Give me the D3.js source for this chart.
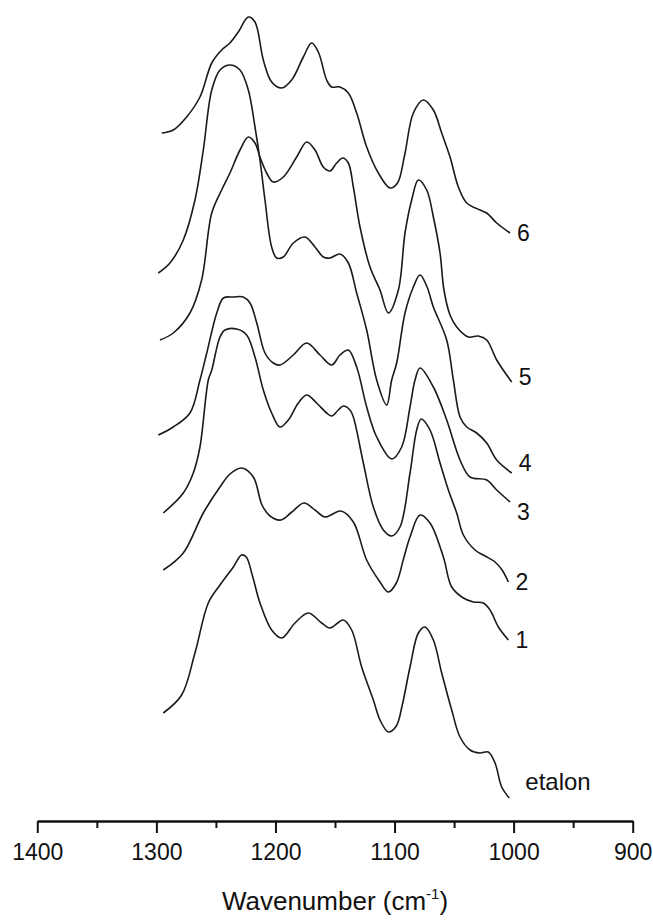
<!DOCTYPE html>
<html>
<head>
<meta charset="utf-8">
<script src="https://cdn.jsdelivr.net/npm/d3@7"></script>
<style>
    body {
        margin: 0;
        background: #ffffff;
    }

    #chart {
        display: block;
    }

    .spectrum {
        fill: none;
        stroke: #1a1a1a;
        stroke-width: 1.6px;
        stroke-linejoin: round;
    }

    text {
        font-family: "Liberation Sans", Arial, sans-serif;
        fill: #111;
    }

    .axis path,
    .axis line {
        stroke: #111;
        stroke-width: 2px;
    }
</style>
</head>
<body>
<svg id="chart" width="653" height="921"></svg>

<script>
    // tick labels of the wavenumber axis
    const majorTicks = [1400, 1300, 1200, 1100, 1000, 900];
    const minorTicks = [1350, 1250, 1150, 1050, 950];

    // spectra, [wavenumber cm-1, absorbance a.u. incl. stacking offset]
    const spectrum6 = [
        [1295.5, 6.88], [1285.8, 6.91], [1274.6, 7.04], [1263.4, 7.24], [1253.5, 7.58],
        [1245.2, 7.71], [1238.2, 7.78], [1231.2, 7.89], [1222.8, 8.04], [1217.2, 7.99],
        [1210.2, 7.61], [1203.2, 7.39], [1194.8, 7.33], [1186.4, 7.41], [1176.6, 7.64],
        [1169.6, 7.78], [1164.0, 7.69], [1157.0, 7.41], [1152.8, 7.34], [1145.8, 7.34],
        [1138.8, 7.28], [1131.8, 7.08], [1123.4, 6.74], [1113.6, 6.48], [1103.8, 6.33],
        [1097.5, 6.38], [1091.5, 6.66], [1084.2, 7.08], [1075.8, 7.21], [1067.4, 7.11],
        [1060.4, 6.88], [1053.4, 6.64], [1046.4, 6.34], [1039.4, 6.18], [1028.2, 6.11],
        [1022.6, 6.08], [1014.2, 5.98], [1003.0, 5.88]
    ];
    const spectrum5 = [
        [1297.0, 4.81], [1285.8, 4.88], [1271.8, 5.08], [1262.0, 5.41], [1253.5, 6.08],
        [1245.2, 6.31], [1238.2, 6.48], [1229.8, 6.71], [1222.8, 6.84], [1217.2, 6.78],
        [1213.0, 6.64], [1207.4, 6.48], [1201.8, 6.39], [1193.4, 6.44], [1182.2, 6.64],
        [1173.8, 6.79], [1166.8, 6.71], [1159.8, 6.54], [1154.2, 6.50], [1148.6, 6.58],
        [1143.5, 6.63], [1138.8, 6.58], [1134.6, 6.34], [1129.0, 5.94], [1120.6, 5.54],
        [1112.2, 5.31], [1105.2, 5.08], [1096.8, 5.31], [1091.2, 5.88], [1085.6, 6.21],
        [1080.0, 6.41], [1073.0, 6.31], [1067.4, 6.04], [1061.8, 5.68], [1058.5, 5.31],
        [1053.4, 5.06], [1047.8, 4.94], [1038.0, 4.84], [1029.7, 4.85], [1022.6, 4.81],
        [1014.2, 4.61], [1001.6, 4.39]
    ];
    const spectrum4 = [
        [1298.4, 5.48], [1288.6, 5.58], [1277.4, 5.81], [1267.6, 6.21], [1260.6, 6.71],
        [1253.5, 7.31], [1246.6, 7.51], [1238.2, 7.56], [1229.8, 7.51], [1222.8, 7.31],
        [1217.2, 6.94], [1213.0, 6.61], [1208.8, 6.21], [1203.2, 5.74], [1199.0, 5.63],
        [1193.4, 5.64], [1185.0, 5.78], [1175.2, 5.84], [1166.8, 5.74], [1159.8, 5.64],
        [1154.2, 5.63], [1145.8, 5.67], [1138.8, 5.58], [1131.8, 5.28], [1123.4, 4.91],
        [1115.0, 4.41], [1106.6, 4.16], [1102.4, 4.41], [1098.2, 4.58], [1091.2, 5.08],
        [1084.2, 5.34], [1078.6, 5.46], [1073.0, 5.35], [1067.4, 5.14], [1056.2, 4.81],
        [1050.6, 4.41], [1045.0, 4.04], [1039.4, 3.94], [1031.0, 3.88], [1022.6, 3.78],
        [1014.2, 3.61], [1001.6, 3.48]
    ];
    const spectrum3 = [
        [1298.4, 3.86], [1285.8, 3.94], [1271.8, 4.08], [1263.4, 4.41], [1257.7, 4.68],
        [1249.3, 5.08], [1243.7, 5.23], [1235.3, 5.24], [1227.0, 5.24], [1221.4, 5.18],
        [1215.7, 4.98], [1208.8, 4.68], [1201.8, 4.58], [1196.2, 4.56], [1185.0, 4.66],
        [1173.8, 4.78], [1162.6, 4.66], [1152.8, 4.56], [1145.8, 4.66], [1138.8, 4.71],
        [1131.8, 4.54], [1123.4, 4.14], [1115.0, 3.84], [1102.4, 3.62], [1094.0, 3.74],
        [1087.0, 4.14], [1082.8, 4.41], [1078.6, 4.53], [1067.4, 4.34], [1056.2, 4.01],
        [1045.0, 3.61], [1036.6, 3.44], [1022.6, 3.41], [1014.2, 3.31], [1003.0, 3.19]
    ];
    const spectrum2 = [
        [1294.2, 3.08], [1277.4, 3.28], [1269.0, 3.48], [1263.4, 3.74], [1256.4, 4.41],
        [1253.5, 4.51], [1246.6, 4.84], [1242.4, 4.91], [1232.6, 4.92], [1224.2, 4.86],
        [1217.2, 4.64], [1210.2, 4.31], [1203.2, 4.08], [1196.2, 3.94], [1189.2, 4.01],
        [1180.8, 4.18], [1173.8, 4.26], [1165.4, 4.18], [1157.0, 4.08], [1152.8, 4.05],
        [1147.2, 4.11], [1143.0, 4.15], [1137.4, 4.11], [1134.6, 4.04], [1126.2, 3.58],
        [1117.8, 3.14], [1109.4, 2.91], [1102.4, 2.85], [1095.4, 2.94], [1087.0, 3.48],
        [1081.4, 3.91], [1077.6, 4.02], [1070.2, 3.91], [1061.8, 3.58], [1054.8, 3.31],
        [1047.8, 3.08], [1042.2, 2.86], [1032.4, 2.71], [1024.0, 2.65], [1015.6, 2.59],
        [1009.7, 2.51], [1004.4, 2.39]
    ];
    const spectrum1 = [
        [1294.2, 2.51], [1277.4, 2.68], [1260.6, 3.08], [1246.6, 3.34], [1238.2, 3.47],
        [1228.4, 3.53], [1218.6, 3.44], [1211.3, 3.16], [1204.6, 3.05], [1195.4, 3.01],
        [1186.2, 3.09], [1176.1, 3.18], [1166.8, 3.11], [1158.4, 3.04], [1145.0, 3.10],
        [1134.6, 2.99], [1123.4, 2.61], [1112.2, 2.39], [1105.2, 2.29], [1098.5, 2.38],
        [1092.5, 2.62], [1087.0, 2.84], [1078.6, 3.06], [1070.2, 2.98], [1059.0, 2.64],
        [1052.0, 2.34], [1042.2, 2.23], [1033.8, 2.19], [1025.4, 2.18], [1019.8, 2.11],
        [1012.8, 1.94], [1004.4, 1.81]
    ];
    const spectrumEtalon = [
        [1294.2, 1.08], [1278.8, 1.26], [1267.6, 1.68], [1256.4, 2.18], [1246.6, 2.36],
        [1235.4, 2.54], [1228.5, 2.66], [1224.5, 2.64], [1219.5, 2.46], [1213.0, 2.18],
        [1203.2, 1.91], [1194.8, 1.83], [1183.6, 1.98], [1172.4, 2.08], [1161.2, 1.98],
        [1154.2, 1.93], [1143.0, 2.01], [1136.0, 1.91], [1127.6, 1.54], [1117.8, 1.21],
        [1112.2, 1.01], [1105.2, 0.89], [1098.5, 0.95], [1093.5, 1.16], [1087.0, 1.54],
        [1080.0, 1.88], [1074.4, 1.94], [1067.4, 1.81], [1060.4, 1.48], [1052.0, 1.11],
        [1045.0, 0.84], [1036.6, 0.71], [1028.2, 0.68], [1021.3, 0.69], [1015.6, 0.58],
        [1010.0, 0.34], [1003.6, 0.23]
    ];

    const seriesNames = ["6", "5", "4", "3", "2", "1", "etalon"];
    const seriesData = [spectrum6, spectrum5, spectrum4, spectrum3, spectrum2, spectrum1, spectrumEtalon];

    // little vertical nudges (px) so the curve labels sit where they do in the figure
    const labelNudge = [0, -5, -10, 10, 0, 0, -17];

    const svg = d3.select("#chart");

    const x = d3.scaleLinear().domain([1400, 900]).range([37.3, 632.7]);
    const y = d3.scaleLinear().domain([0, 8.21]).range([821, 0]);

    const line = d3
        .line()
        .x((d) => x(d[0]))
        .y((d) => y(d[1]))
        .curve(d3.curveCatmullRom.alpha(0.5));

    svg.selectAll(".spectrum")
        .data(seriesData)
        .enter()
        .append("path")
        .attr("class", "spectrum")
        .attr("d", line);

    // curve labels at the right end of every trace
    svg.selectAll(".curve-label")
        .data(seriesData)
        .enter()
        .append("text")
        .attr("class", "curve-label")
        .attr("x", (d, i) => (seriesNames[i] === "etalon" ? x(d[d.length - 1][0]) + 16 : x(d[d.length - 1][0]) + 7))
        .attr("y", (d, i) => y(d[d.length - 1][1]) + labelNudge[i])
        .attr("dy", "0.36em")
        .style("font-size", (d, i) => (seriesNames[i] === "etalon" ? "24px" : "23px"))
        .text((d, i) => seriesNames[i]);

    // bottom axis: major + minor ticks
    const axisY = y(0);

    svg.append("g")
        .attr("class", "axis")
        .attr("transform", `translate(0,${axisY})`)
        .call(d3.axisBottom(x).tickValues(minorTicks).tickSize(7).tickSizeOuter(0).tickFormat(""));

    const major = svg
        .append("g")
        .attr("class", "axis")
        .attr("transform", `translate(0,${axisY})`)
        .call(
            d3.axisBottom(x)
                .tickValues(majorTicks)
                .tickSize(12)
                .tickSizeOuter(0)
                .tickPadding(11)
                .tickFormat(d3.format("d"))
        );

    major.selectAll("text")
        .style("font-size", "23px")
        .style("font-family", '"Liberation Sans", Arial, sans-serif')
        .attr("fill", "#111");

    // axis title with superscript
    const title = svg
        .append("text")
        .attr("x", (x.range()[0] + x.range()[1]) / 2)
        .attr("y", 910)
        .attr("text-anchor", "middle")
        .style("font-size", "26px");
    title.append("tspan").text("Wavenumber (cm");
    title.append("tspan").attr("dy", -11).style("font-size", "15px").text("-1");
    title.append("tspan").attr("dy", 11).text(")");
</script>
</body>
</html>
